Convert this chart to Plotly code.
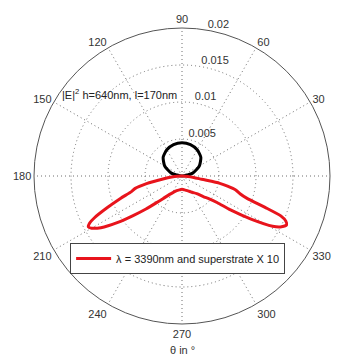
import plotly.graph_objects as go

# |E|^2 far-field pattern, lambda = 3390 nm with superstrate (scaled x10)
theta_red = [180, 183, 186, 189, 192, 195, 197, 200, 203, 205.5, 207, 208.5, 210,
             212.5, 216, 219, 222.5, 226, 230, 236, 242, 250, 260, 270, 280, 290,
             300, 310, 316, 320, 323, 325, 328, 331, 333, 335, 336.5, 338, 339.3,
             341, 343, 345.5, 347.5, 349, 350.5, 353, 356, 360]
r_red = [0.0000, 0.0006, 0.0014, 0.0026, 0.0049, 0.0066, 0.0071, 0.0088, 0.0110,
         0.0131, 0.0140, 0.0144, 0.0141, 0.0130, 0.0106, 0.0085, 0.0066, 0.0051,
         0.0040, 0.0030, 0.0025, 0.0021, 0.0019, 0.0018, 0.0019, 0.0021, 0.0025,
         0.0031, 0.0040, 0.0048, 0.0060, 0.0080, 0.0110, 0.0140, 0.0151, 0.0156,
         0.0153, 0.0144, 0.0120, 0.0093, 0.0082, 0.0075, 0.0063, 0.0052, 0.0027,
         0.0016, 0.0008, 0.0000]

# Reference pattern (black)
theta_black = [0, 15, 30, 45, 60, 75, 90, 105, 120, 135, 150, 165, 180]
r_black = [0.0000, 0.0015, 0.0027, 0.0036, 0.0041, 0.0044, 0.0045, 0.0044,
           0.0041, 0.0036, 0.0027, 0.0015, 0.0000]

angle_ticks = list(range(0, 360, 30))
angle_labels = ["", "30", "60", "90", "120", "150", "180", "210", "240", "270",
                "300", "330"]
radial_ticks = [0.005, 0.01, 0.015, 0.02]
radial_labels = ["0.005", "0.01", "0.015", "0.02"]
radial_label_angle = 80

legend_label = "\u03bb = 3390nm and superstrate X 10"
title_text = "|E|<sup>2</sup> h=640nm, l=170nm"
axis_title = "\u03b8 in \u00b0"

FONT = "Liberation Sans, Arial, sans-serif"
GRID = "#6f6f6f"
DOTS = "1px,3px"

fig = go.Figure()
fig.add_trace(go.Scatterpolar(
    r=r_black, theta=theta_black, mode="lines",
    line=dict(color="black", width=3, shape="spline", smoothing=0.6),
    showlegend=False, hoverinfo="skip"))
fig.add_trace(go.Scatterpolar(
    r=r_red, theta=theta_red, mode="lines",
    line=dict(color="#e8141c", width=3, shape="spline", smoothing=0.6),
    name=legend_label))
# radial tick labels placed along a ray at 80 degrees
fig.add_trace(go.Scatterpolar(
    r=radial_ticks, theta=[radial_label_angle] * len(radial_ticks),
    mode="text", text=radial_labels, textposition="top right",
    textfont=dict(size=11, color="#333333"),
    showlegend=False, hoverinfo="skip", cliponaxis=False))

fig.update_layout(
    width=340, height=356,
    margin=dict(l=34, r=10, t=28, b=32),
    paper_bgcolor="white",
    font=dict(family=FONT, size=11, color="#333333"),
    polar=dict(
        bgcolor="white",
        domain=dict(x=[0, 1], y=[0, 1]),
        angularaxis=dict(
            rotation=0, direction="counterclockwise",
            tickmode="array", tickvals=angle_ticks, ticktext=angle_labels,
            showline=True, linecolor="#555555", linewidth=1,
            showgrid=True, gridcolor=GRID, griddash=DOTS, gridwidth=1,
            ticks="", tickfont=dict(size=11, color="#333333"),
        ),
        radialaxis=dict(
            range=[0, 0.02], angle=radial_label_angle,
            tickmode="array", tickvals=radial_ticks,
            showticklabels=False, showline=False, ticks="",
            showgrid=True, gridcolor=GRID, griddash=DOTS, gridwidth=1,
        ),
    ),
    legend=dict(
        x=0.122, y=0.274, xanchor="left", yanchor="top",
        bgcolor="white", bordercolor="#444444", borderwidth=1,
        font=dict(size=11, color="#222222"),
        itemwidth=35,
    ),
    annotations=[
        dict(text=title_text, x=0.29, y=0.777, xref="paper", yref="paper",
             xanchor="center", yanchor="middle",
             showarrow=False, font=dict(size=11, color="#222222")),
        dict(text=axis_title, x=0.5, y=-0.088, xref="paper", yref="paper",
             xanchor="center", yanchor="middle",
             showarrow=False, font=dict(size=11, color="#333333")),
    ],
)

fig.write_html("out.html")
